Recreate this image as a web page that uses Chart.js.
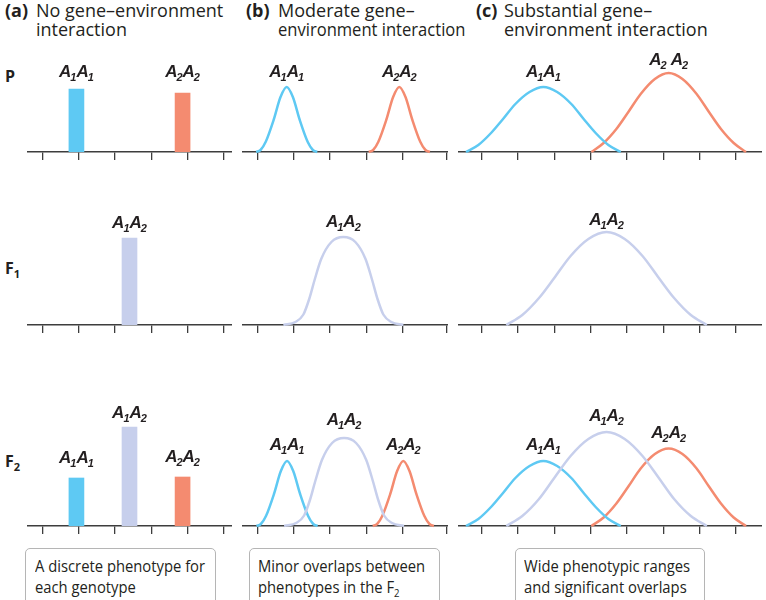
<!DOCTYPE html>
<html>
<head>
<meta charset="utf-8">
<script src="https://cdn.jsdelivr.net/npm/chart.js@4.4.0/dist/chart.umd.min.js"></script>
<style>
  body { margin: 0; width: 766px; height: 600px; overflow: hidden; background: #fff; position: relative;
         font-family: "Open Sans", "Noto Sans", sans-serif; color: #231f20; }
  .t { position: absolute; white-space: nowrap; font-size: 18px; line-height: 19px; }
  .t span { display: inline-block; transform-origin: left top; }
  .b { font-weight: bold; }
  .row { position: absolute; font-weight: bold; font-size: 16px; line-height: 16px; }
  .row span, .box span.s { font-size: 11px; position: relative; top: 4px; }
  .box { position: absolute; top: 548px; height: 70px; box-sizing: border-box; border: 1px solid #b5b5b5;
         border-radius: 5px; }
  .box div { position: absolute; top: 6px; white-space: nowrap; font-size: 17px; line-height: 21px;
             transform: scaleX(0.87); transform-origin: left top; }
  .cell { position: absolute; }
</style>
</head>
<body>

<div class="t b" style="left:5px;top:1px">(a)</div>
<div class="t" style="left:36px;top:1px">No gene–environment<br>interaction</div>
<div class="t b" style="left:246px;top:1px">(b)</div>
<div class="t" style="left:278px;top:1px">Moderate gene–<br><span style="transform:scaleX(0.92)">environment interaction</span></div>
<div class="t b" style="left:476px;top:1px">(c)</div>
<div class="t" style="left:504px;top:1px">Substantial gene–<br>environment interaction</div>

<div class="row" style="left:5px;top:68px">P</div>
<div class="row" style="left:5px;top:260px">F<span>1</span></div>
<div class="row" style="left:5px;top:453px">F<span>2</span></div>

<div class="box" style="left:25px;width:191px"><div style="left:9px">A discrete phenotype for<br>each genotype</div></div>
<div class="box" style="left:249px;width:191px"><div style="left:8px">Minor overlaps between<br>phenotypes in the F<span class="s">2</span></div></div>
<div class="box" style="left:515px;width:190px"><div style="left:8px">Wide phenotypic ranges<br>and significant overlaps</div></div>

<script>
// ==================== DATA (phenotype units on x, height on y) ====================

const ticksA = [1, 2, 3, 4, 5, 6];
const ticksB = [1, 2, 3, 4, 5, 6.2];
const ticksC = [1, 2, 3, 4, 5, 6, 7, 8];

// (a) discrete phenotypes
const genotypes = ['A1A1', 'A1A2', 'A2A2'];
const barX = [1.94, 3.40, 4.86];
const barP = [63, null, 59];
const barF1 = [null, 87, null];
const barF2 = [48, 99, 49];

// (b) moderate interaction
const bP_A1A1 = [[0.97,0],[1.09,2],[1.23,10],[1.45,32],[1.64,55],[1.81,65],[1.98,55],[2.17,32],[2.39,10],[2.53,2],[2.65,0]];
const bP_A2A2 = [[4.07,0],[4.19,2],[4.33,10],[4.55,32],[4.74,55],[4.91,65],[5.08,55],[5.27,32],[5.49,10],[5.63,2],[5.75,0]];
const bF1_A1A2 = [[1.72,0],[2.05,3],[2.27,10.5],[2.43,26],[2.57,44],[2.76,66],[3.04,83],[3.37,88],
                  [3.70,83],[3.98,66],[4.17,44],[4.31,26],[4.47,10.5],[4.69,3],[5.02,0]];
const bF2_A1A1 = [[0.98,0],[1.10,2],[1.24,10],[1.46,32],[1.65,55],[1.82,65],[1.99,55],[2.18,32],[2.40,10],[2.54,2],[2.66,0]];
const bF2_A1A2 = [[1.74,0],[2.07,3],[2.29,10.5],[2.45,26],[2.59,44],[2.78,66],[3.06,83],[3.39,88],
                  [3.72,83],[4.00,66],[4.19,44],[4.33,26],[4.49,10.5],[4.71,3],[5.04,0]];
const bF2_A2A2 = [[4.18,0],[4.30,2],[4.44,10],[4.66,32],[4.85,55],[5.02,65],[5.19,55],[5.38,32],[5.60,10],[5.74,2],[5.86,0]];

// (c) substantial interaction
const cP_A1A1 = [[0.57,0],[0.91,7],[1.26,19],[1.59,33],[1.93,48],[2.32,60],[2.70,65],
                 [3.08,60],[3.47,48],[3.81,33],[4.14,19],[4.49,7],[4.83,0]];
const cP_A2A2 = [[4.02,0],[4.36,9],[4.71,23],[5.04,40],[5.38,58],[5.77,73],[6.15,79],
                 [6.53,73],[6.92,58],[7.26,40],[7.59,23],[7.94,9],[8.28,0]];
const cF1_A1A2 = [[1.68,0],[2.12,10],[2.58,27],[3.00,47],[3.45,69],[3.94,86],[4.44,93],
                  [4.94,86],[5.43,69],[5.88,47],[6.30,27],[6.76,10],[7.20,0]];
const cF2_A1A1 = [[0.57,0],[0.91,7],[1.26,19],[1.59,33],[1.93,48],[2.32,60],[2.70,65],
                  [3.08,60],[3.47,48],[3.81,33],[4.14,19],[4.49,7],[4.83,0]];
const cF2_A1A2 = [[1.68,0],[2.12,10],[2.58,27],[3.00,48],[3.45,70],[3.94,87],[4.44,94],
                  [4.94,87],[5.43,70],[5.88,48],[6.30,27],[6.76,10],[7.20,0]];
const cF2_A2A2 = [[4.02,0],[4.36,8.5],[4.71,22.5],[5.04,39.5],[5.38,57.5],[5.77,72],[6.15,77.5],
                  [6.53,72],[6.92,57.5],[7.26,39.5],[7.59,22.5],[7.94,8.5],[8.28,0]];

// ==================== STYLE / LAYOUT ====================

const COLORS = { A1A1: '#5ec9f3', A1A2: '#c7cfec', A2A2: '#f48b70' };
const AXIS = '#3d3d3d';
const PLOT_H = 140;
const columns = [
    { left: 27,  width: 205, min: 0.58, max: 6.22, ticks: ticksA },
    { left: 242, width: 206, min: 0.58, max: 6.25, ticks: ticksB },
    { left: 458, width: 304, min: 0.35, max: 8.72, ticks: ticksC }
];
const rowAxisY = [152, 325, 526];

// draws "A1A1" style genotype names with subscripts
function drawGeno(ctx, name, cx, by, gap) {
    const big = 'italic bold 17px "Liberation Sans", Arial, sans-serif';
    const small = 'italic bold 11px "Liberation Sans", Arial, sans-serif';
    const segs = name.match(/[A-Z]\d/g).map(s => {
        ctx.font = big; const wl = ctx.measureText(s[0]).width;
        ctx.font = small; const wd = ctx.measureText(s[1]).width;
        return { L: s[0], d: s[1], wl, wd };
    });
    const w = segs.reduce((a, s) => a + s.wl + s.wd, 0) + gap * (segs.length - 1) - segs.length;
    let x = cx - w / 2;
    ctx.save();
    ctx.fillStyle = '#231f20';
    ctx.textAlign = 'left';
    ctx.textBaseline = 'alphabetic';
    segs.forEach((s, k) => {
        if (k) x += gap;
        ctx.font = big; ctx.fillText(s.L, x, by); x += s.wl - 1;
        ctx.font = small; ctx.fillText(s.d, x, by + 4); x += s.wd;
    });
    ctx.restore();
}

const genoLabels = {
    id: 'genoLabels',
    afterDatasetsDraw(chart) {
        chart.data.datasets.forEach((ds, i) => {
            const meta = chart.getDatasetMeta(i);
            let best = 0;
            ds.data.forEach((p, k) => { if (p.y > ds.data[best].y) best = k; });
            const el = meta.data[best];
            if (!el) return;
            drawGeno(chart.ctx, ds.label, el.x, el.y - (ds.labelLift || 10), ds.labelGap || 0);
        });
    }
};

function makeCell(rowIdx, colIdx, type, datasets) {
    const col = columns[colIdx];
    const div = document.createElement('div');
    div.className = 'cell';
    div.style.left = col.left + 'px';
    div.style.top = (rowAxisY[rowIdx] - PLOT_H) + 'px';
    const canvas = document.createElement('canvas');
    canvas.width = col.width;
    canvas.height = PLOT_H + 12;
    div.appendChild(canvas);
    document.body.appendChild(div);

    return new Chart(canvas, {
        type: type,
        data: { datasets: datasets },
        options: {
            responsive: false,
            animation: false,
            events: [],
            layout: { padding: { left: 0, right: 0, top: 0, bottom: 4 } },
            plugins: { legend: { display: false }, tooltip: { enabled: false } },
            scales: {
                x: {
                    type: 'linear',
                    min: col.min,
                    max: col.max,
                    offset: false,
                    afterBuildTicks: s => { s.ticks = col.ticks.map(v => ({ value: v })); },
                    grid: { drawOnChartArea: false, drawTicks: true, tickLength: 8, color: AXIS, lineWidth: 1.3, offset: false },
                    border: { display: true, color: AXIS, width: 1.5 },
                    ticks: { display: false }
                },
                y: { display: false, min: 0, max: PLOT_H }
            }
        },
        plugins: [genoLabels]
    });
}

function barSets(values, lifts) {
    const out = [];
    values.forEach((v, i) => {
        if (v === null) return;
        out.push({
            label: genotypes[i],
            data: [{ x: barX[i], y: v }],
            backgroundColor: COLORS[genotypes[i]],
            barThickness: 15,
            grouped: false,
            labelLift: lifts[i]
        });
    });
    return out;
}

function curve(name, pts, extra) {
    return Object.assign({
        label: name,
        data: pts.map(([x, y]) => ({ x, y })),
        borderColor: COLORS[name],
        borderWidth: 2.5,
        pointRadius: 0,
        fill: false,
        cubicInterpolationMode: 'monotone',
        clip: false
    }, extra || {});
}

// column (a)
makeCell(0, 0, 'bar', barSets(barP, [12, 0, 16]));
makeCell(1, 0, 'bar', barSets(barF1, [0, 10, 0]));
makeCell(2, 0, 'bar', barSets(barF2, [15, 9, 15]));

// column (b)
makeCell(0, 1, 'line', [curve('A1A1', bP_A1A1), curve('A2A2', bP_A2A2)]);
makeCell(1, 1, 'line', [curve('A1A2', bF1_A1A2)]);
makeCell(2, 1, 'line', [curve('A1A2', bF2_A1A2, { labelLift: 13 }), curve('A1A1', bF2_A1A1, { labelLift: 11 }),
                        curve('A2A2', bF2_A2A2, { labelLift: 11 })]);

// column (c)
makeCell(0, 2, 'line', [curve('A1A1', cP_A1A1), curve('A2A2', cP_A2A2, { labelLift: 8, labelGap: 4 })]);
makeCell(1, 2, 'line', [curve('A1A2', cF1_A1A2, { labelLift: 7 })]);
makeCell(2, 2, 'line', [curve('A1A2', cF2_A1A2, { labelLift: 11 }), curve('A1A1', cF2_A1A1, { labelLift: 11 }),
                        curve('A2A2', cF2_A2A2, { labelLift: 11 })]);
</script>
</body>
</html>
